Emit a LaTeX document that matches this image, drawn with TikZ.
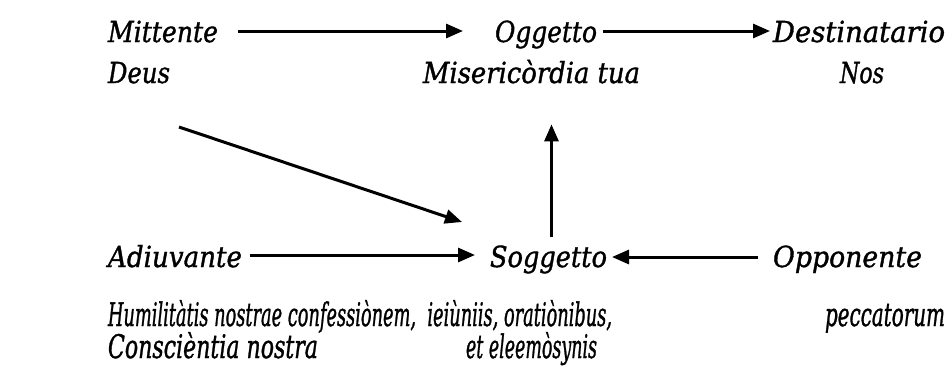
\documentclass[tikz,border=0pt]{standalone}
\usepackage{fontspec}
\setmainfont{DejaVu Serif}[ItalicFeatures={FakeBold=1.3}]
\usetikzlibrary{arrows.meta}
\newcommand{\fitw}[2]{\resizebox{#1}{\height}{#2}}
\newcommand{\fitwh}[2]{\resizebox{#1}{1.12\height}{#2}}
\tikzset{
  lbl/.style={inner sep=0pt, outer sep=0pt, anchor=base west, font=\fontsize{29}{33}\selectfont\itshape},
  arr/.style={line width=3pt, -{Triangle[length=17pt,width=14pt]}}
}
\begin{document}
\begin{tikzpicture}[x=1pt,y=-1pt]
\useasboundingbox (0,0) rectangle (947,367);
% row 1
\node[lbl] (mit) at (108,42) {\fitw{110pt}{Mittente}};
\node[lbl] (ogg) at (495,42) {\fitw{102pt}{Oggetto}};
\node[lbl] (des) at (773,42) {\fitw{172pt}{Destinatario}};
% row 2
\node[lbl] (deus) at (108,83) {\fitw{62pt}{Deus}};
\node[lbl] (mis) at (423,83) {\fitw{217pt}{Misericòrdia tua}};
\node[lbl] (nos) at (840,83) {\fitw{44pt}{Nos}};
% row 3
\node[lbl] (adi) at (108,267) {\fitw{134pt}{Adiuvante}};
\node[lbl] (sog) at (490,267) {\fitw{117pt}{Soggetto}};
\node[lbl] (opp) at (773,267) {\fitw{149pt}{Opponente}};
% bottom rows
\node[lbl] (hum) at (108,326) {\fitwh{504pt}{Humilitàtis nostrae confessiònem,\ \ ieiùniis, oratiònibus,}};
\node[lbl] (pec) at (825,326) {\fitwh{120pt}{peccatorum}};
\node[lbl] (con) at (108,358) {\fitwh{210pt}{Conscièntia nostra}};
\node[lbl] (ele) at (466,358) {\fitwh{131pt}{et eleemòsynis}};
% arrows
\draw[arr, shorten <=20pt, shorten >=32pt] ([yshift=11pt]mit.base east) -- ([yshift=11pt]ogg.base west);
\draw[arr, shorten <=6pt, shorten >=3pt] ([yshift=11pt]ogg.base east) -- ([yshift=11pt]des.base west);
\draw[arr, shorten <=8pt, shorten >=15pt] ([yshift=12pt]adi.base east) -- ([yshift=12pt]sog.base west);
\draw[arr, shorten <=15pt, shorten >=5pt] ([yshift=10pt]opp.base west) -- ([yshift=10pt]sog.base east);
\coordinate (dstart) at ([shift={(71,44)}]deus.base west);
\draw[arr] (dstart) -- ([shift={(-28,-45)}]sog.base west);
\draw[arr, shorten <=8pt, shorten >=41pt] ([xshift=3pt]sog.north) -- ([xshift=3pt]sog.north |- mis.south);
\end{tikzpicture}
\end{document}
